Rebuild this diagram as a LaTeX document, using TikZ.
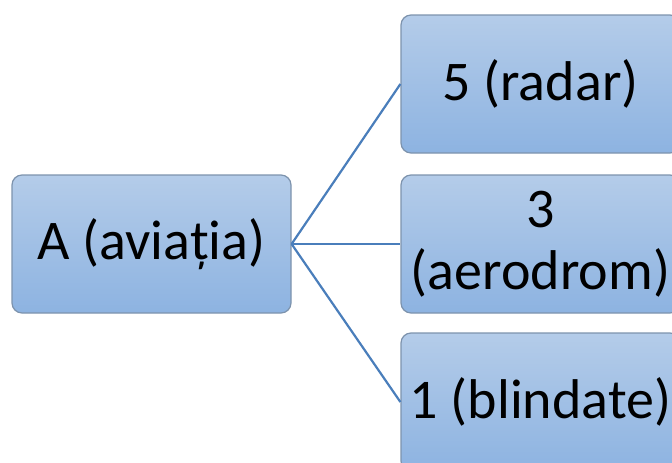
\documentclass[tikz,border=0pt]{standalone}
\usepackage{fontspec}
\setmainfont{Carlito}
\definecolor{boxtop}{HTML}{B4CCE9}
\definecolor{boxbot}{HTML}{8DB3E1}
\definecolor{boxline}{HTML}{7D93AD}
\definecolor{linkcol}{HTML}{4A7EBB}
\tikzset{
  itembox/.style={draw=boxline, line width=1.2pt, rounded corners=10pt,
    top color=boxtop, bottom color=boxbot, minimum width=279pt,
    minimum height=138pt, inner sep=0pt, align=center,
    font=\fontsize{56}{62}\selectfont},
  link/.style={draw=linkcol, line width=2.2pt}
}
\begin{document}
\begin{tikzpicture}[x=1pt,y=-1pt]
\useasboundingbox (0,0) rectangle (672,463);
\clip (0,0) rectangle (672,463);
\node[itembox] (a) at (151.5,244) {A (aviația)};
\node[itembox] (r) at (540.5,84) {5 (radar)};
\node[itembox] (d) at (540.5,244) {3\\(aerodrom)};
\node[itembox] (b) at (540.5,402) {1 (blindate)};
\draw[link] (a.east) -- (r.west);
\draw[link] (a.east) -- (d.west);
\draw[link] (a.east) -- (b.west);
\end{tikzpicture}
\end{document}
